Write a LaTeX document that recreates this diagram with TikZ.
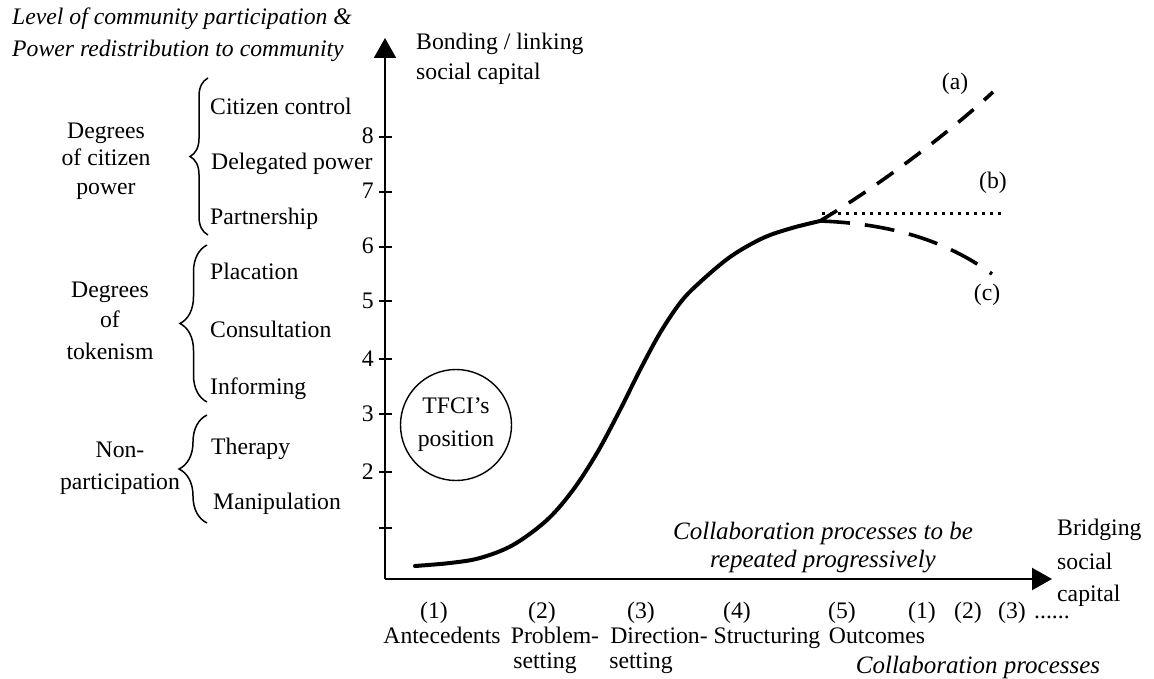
\documentclass[tikz,border=0pt]{standalone}
\usepackage{fontspec}
\setmainfont{Liberation Serif}
\usetikzlibrary{arrows.meta,decorations.pathreplacing}
\newcommand\fsz{\fontsize{23.7}{28}\selectfont}
\newcommand\ifsz{\fontsize{25}{29}\selectfont\itshape}
\begin{document}
\begin{tikzpicture}[x=1pt,y=-1pt,
  lbl/.style={font=\fsz, inner sep=0pt},
  ilbl/.style={font=\ifsz, inner sep=0pt},
  tlbl/.style={font=\fsz\itshape, inner sep=0pt},
  axisline/.style={line width=2.2pt, -{Triangle[width=22pt,length=20pt]}},
  tickmark/.style={line width=1.6pt},
  bracestyle/.style={decorate, decoration={brace, amplitude=#1}, line width=1.5pt},
  mainline/.style={line width=4pt, line cap=round},
  adash/.style={line width=3.6pt, dash pattern=on 20pt off 14pt},
  bdot/.style={line width=3pt, dash pattern=on 3pt off 5pt},
  cdash/.style={line width=3.6pt, dash pattern=on 30pt off 15pt},
  circ/.style={draw, circle, line width=1.4pt, minimum size=111pt, inner sep=0pt, align=center, font=\fontsize{23.7}{33}\selectfont}
]
\path[fill=white, use as bounding box] (0,0) rectangle (1154,679);

% title
\node[tlbl, anchor=base west] (title1) at (12,25) {Level of community participation \&};
\node[tlbl, anchor=base west] (title2) at (12,57) {Power redistribution to community};

% axes
\coordinate (O) at (385,579);
\coordinate (ytip) at (385,38);
\coordinate (xtip) at (1052,579);
\draw[axisline] (O) -- (ytip);
\draw[axisline] (O) -- (xtip);
\foreach \yy in {137,192,247,301,359,414,472,528}
  \draw[tickmark] (379,\yy) -- (392,\yy);

% tick labels
\node[lbl, anchor=base east] (n8) at (374,144) {8};
\node[lbl, anchor=base east] (n7) at (374,199) {7};
\node[lbl, anchor=base east] (n6) at (374,254) {6};
\node[lbl, anchor=base east] (n5) at (374,308) {5};
\node[lbl, anchor=base east] (n4) at (374,366) {4};
\node[lbl, anchor=base east] (n3) at (374,421) {3};
\node[lbl, anchor=base east] (n2) at (374,479) {2};

% y axis label
\node[lbl, anchor=base west] (yl1) at (416,50) {Bonding / linking};
\node[lbl, anchor=base west] (yl2) at (416,80) {social capital};

% left groups
\node[lbl, anchor=base] (g1a) at (106,139) {Degrees};
\node[lbl, anchor=base] (g1b) at (106,166) {of citizen};
\node[lbl, anchor=base] (g1c) at (106,195) {power};
\node[lbl, anchor=base] (g2a) at (110,298) {Degrees};
\node[lbl, anchor=base] (g2b) at (110,327) {of};
\node[lbl, anchor=base] (g2c) at (110,359) {tokenism};
\node[lbl, anchor=base] (g3a) at (120,457) {Non-};
\node[lbl, anchor=base] (g3b) at (120,489) {participation};

% braces
\draw[bracestyle=18pt] (208,235) -- (208,78);
\draw[bracestyle=27pt] (207,402) -- (207,245);
\draw[bracestyle=28pt] (207,523) -- (207,415);

% items
\node[lbl, anchor=base west] (i1) at (210,115) {Citizen control};
\node[lbl, anchor=base west] (i2) at (211,170) {Delegated power};
\node[lbl, anchor=base west] (i3) at (210,225) {Partnership};
\node[lbl, anchor=base west] (i4) at (210,279) {Placation};
\node[lbl, anchor=base west] (i5) at (210,337) {Consultation};
\node[lbl, anchor=base west] (i6) at (210,394) {Informing};
\node[lbl, anchor=base west] (i7) at (211,454) {Therapy};
\node[lbl, anchor=base west] (i8) at (213,509) {Manipulation};

% TFCI circle
\node[circ] (tfci) at (456,425) {TFCI’s\\position};

% main curve
\coordinate (br) at (820,221);
\draw[mainline] plot[smooth, tension=0.55] coordinates {(415,566) (450,563) (480,558) (513,545) (547,520) (573,490) (597,453) (620,410) (640,370) (660,333) (680,303) (698,284) (730,257) (763,238) (792,228) (br)};

% branches
\coordinate (aend) at (993,92);
\coordinate (bstart) at (822,214);
\coordinate (bend) at (1003,214);
\coordinate (cend) at (992,274);
\draw[adash] (br) .. controls (880,185) and (950,132) .. (aend);
\draw[bdot] (bstart) -- (bend);
\draw[cdash] (br) .. controls (900,224) and (952,245) .. (cend);
\node[lbl, anchor=base] (la) at (955,90) {(a)};
\node[lbl, anchor=base] (lb) at (993,189) {(b)};
\node[lbl, anchor=base] (lc) at (987,300) {(c)};

% repeated text
\node[ilbl, anchor=base] (rep1) at (823,539) {Collaboration processes to be};
\node[ilbl, anchor=base] (rep2) at (823,567) {repeated progressively};

% x axis label
\node[lbl, anchor=base west] (xl1) at (1057,535) {Bridging};
\node[lbl, anchor=base west] (xl2) at (1057,569) {social};
\node[lbl, anchor=base west] (xl3) at (1057,601) {capital};

% stage labels
\node[lbl, anchor=base] (s1n) at (434,618) {(1)};
\node[lbl, anchor=base] (s1) at (442,643) {Antecedents};
\node[lbl, anchor=base] (s2n) at (542,618) {(2)};
\node[lbl, anchor=base] (s2) at (555,643) {Problem-};
\node[lbl, anchor=base] (s2b) at (545,668) {setting};
\node[lbl, anchor=base] (s3n) at (641,618) {(3)};
\node[lbl, anchor=base] (s3) at (659,643) {Direction-};
\node[lbl, anchor=base] (s3b) at (641,668) {setting};
\node[lbl, anchor=base] (s4n) at (737,618) {(4)};
\node[lbl, anchor=base] (s4) at (767,643) {Structuring};
\node[lbl, anchor=base] (s5n) at (842,618) {(5)};
\node[lbl, anchor=base] (s5) at (877,643) {Outcomes};
\node[lbl, anchor=base] (r1) at (922,618) {(1)};
\node[lbl, anchor=base] (r2) at (968,618) {(2)};
\node[lbl, anchor=base] (r3) at (1012,618) {(3)};
\node[lbl, anchor=base west] (rdots) at (1034,618) {......};
\node[ilbl, anchor=base] (cp) at (978,673) {Collaboration processes};
\end{tikzpicture}
\end{document}
